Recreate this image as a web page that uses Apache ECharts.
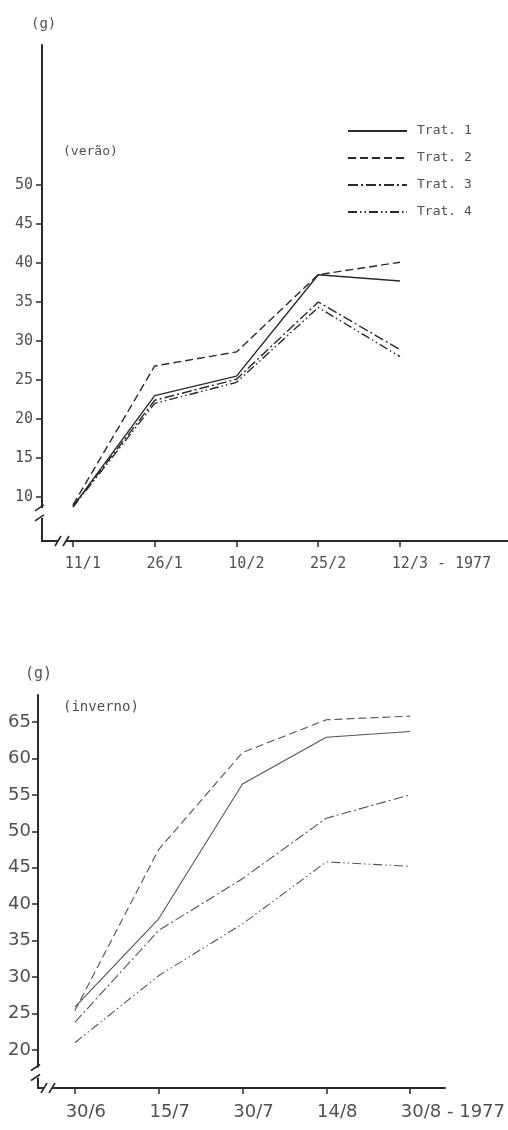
<!DOCTYPE html>
<html>
<head>
<meta charset="utf-8">
<script src="https://cdn.jsdelivr.net/npm/echarts@6/dist/echarts.min.js"></script>
<style>
  html, body { margin: 0; padding: 0; background: #fff; }
  #chart { width: 508px; height: 1130px; }
</style>
</head>
<body>
<div id="chart"></div>
<script>
// Sampling dates for each season
const summerDates = ['11/1', '26/1', '10/2', '25/2', '12/3 - 1977'];
const winterDates = ['30/6', '15/7', '30/7', '14/8', '30/8 - 1977'];
const treatments = ['Trat. 1', 'Trat. 2', 'Trat. 3', 'Trat. 4'];

// Mean weight (g), summer (verão)
const summerT1 = [8.8, 23.0, 25.5, 38.5, 37.7];
const summerT2 = [9.0, 26.8, 28.6, 38.5, 40.1];
const summerT3 = [8.8, 22.4, 25.1, 35.0, 28.9];
const summerT4 = [8.7, 22.0, 24.7, 34.3, 28.0];

// Mean weight (g), winter (inverno)
const winterT1 = [25.9, 38.0, 56.5, 62.9, 63.7];
const winterT2 = [25.4, 47.5, 60.8, 65.3, 65.8];
const winterT3 = [23.8, 36.4, 43.5, 51.8, 55.0];
const winterT4 = [21.0, 30.2, 37.3, 45.8, 45.2];

// Tick values
const summerTicks = [10, 15, 20, 25, 30, 35, 40, 45, 50];
const winterTicks = [20, 25, 30, 35, 40, 45, 50, 55, 60, 65];

const INK = '#2a2a2a';
const TEXT = '#505050';
const dashStyles = ['solid', [8, 4], [10, 3, 2, 3], [9, 3, 1.5, 3, 1.5, 3]];

const topGrid = { left: 42, top: 45, width: 466, height: 496 };
const botGrid = { left: 38, top: 695, width: 408, height: 393 };

const idx = summerDates.map((_, i) => i);
const pairs = arr => arr.map((v, i) => [i, v]);

function xAxisFor(gridIndex, labels, min, max, labelShift, font, margin) {
  return {
    type: 'value', gridIndex, min, max,
    axisLine: { show: true, onZero: false, lineStyle: { color: INK, width: 2 } },
    axisTick: { show: true, customValues: idx, length: 6, lineStyle: { color: INK, width: 1.5 } },
    axisLabel: {
      customValues: idx.map(i => i - labelShift),
      formatter: v => labels[Math.round(v)],
      align: 'left', margin, color: TEXT,
      fontFamily: font.family, fontSize: font.size
    },
    splitLine: { show: false }
  };
}

function yAxisFor(gridIndex, ticks, min, max, font, margin) {
  return {
    type: 'value', gridIndex, min, max,
    axisLine: { show: true, onZero: false, lineStyle: { color: INK, width: 2 } },
    axisTick: { show: true, customValues: ticks, length: 6, lineStyle: { color: INK, width: 1.5 } },
    axisLabel: {
      customValues: ticks, margin, color: TEXT,
      fontFamily: font.family, fontSize: font.size
    },
    splitLine: { show: false }
  };
}

function lineSeries(name, data, gi, k, color, width) {
  return {
    name, type: 'line', xAxisIndex: gi, yAxisIndex: gi,
    data: pairs(data), symbol: 'none', silent: true,
    itemStyle: { color: 'rgba(0,0,0,0)' },
    lineStyle: { color, width, type: dashStyles[k] }
  };
}

const summerSets = [summerT1, summerT2, summerT3, summerT4];
const winterSets = [winterT1, winterT2, winterT3, winterT4];

const chart = echarts.init(document.getElementById('chart'), null, { renderer: 'canvas' });

const monoTop = { family: 'DejaVu Sans Mono', size: 15 };
const sansBot = { family: 'DejaVu Sans', size: 18 };

chart.setOption({
  animation: false,
  backgroundColor: '#fff',
  grid: [topGrid, botGrid],
  xAxis: [
    xAxisFor(0, summerDates, -0.379, 5.321, 0.1, monoTop, 16),
    xAxisFor(1, winterDates, -0.44, 4.417, 0.11, sansBot, 15)
  ],
  yAxis: [
    yAxisFor(0, summerTicks, 4.36, 67.95, monoTop, 9),
    yAxisFor(1, winterTicks, 14.79, 68.7, sansBot, 7)
  ],
  legend: {
    data: treatments,
    orient: 'vertical',
    left: 342, top: 119,
    itemWidth: 59, itemHeight: 14, itemGap: 13,
    selectedMode: false,
    itemStyle: { color: 'rgba(0,0,0,0)', borderWidth: 0 },
    textStyle: {
      fontFamily: 'DejaVu Sans Mono', fontSize: 13, color: TEXT,
      lineHeight: 14, padding: [0, 0, 0, 5]
    }
  },
  series: [
    ...summerSets.map((d, k) => lineSeries(treatments[k], d, 0, k, INK, 1.4)),
    ...winterSets.map((d, k) => lineSeries(treatments[k] + ' ', d, 1, k, '#555', 1.1))
  ]
});

// Axis breaks and annotations, placed from the grid geometry
function breaks(axisX, axisY, yGapTop, xGapLeft) {
  const els = [];
  const stroke = { stroke: INK, lineWidth: 1.6 };
  // vertical axis break
  els.push({ type: 'rect', shape: { x: axisX - 3, y: yGapTop, width: 6, height: 10 }, style: { fill: '#fff' }, z: 100 });
  els.push({ type: 'line', shape: { x1: axisX - 7, y1: yGapTop + 3, x2: axisX + 2, y2: yGapTop - 3 }, style: stroke, z: 101 });
  els.push({ type: 'line', shape: { x1: axisX - 7, y1: yGapTop + 13, x2: axisX + 2, y2: yGapTop + 7 }, style: stroke, z: 101 });
  // horizontal axis break
  els.push({ type: 'rect', shape: { x: xGapLeft, y: axisY - 3, width: 8, height: 6 }, style: { fill: '#fff' }, z: 100 });
  els.push({ type: 'line', shape: { x1: xGapLeft - 3, y1: axisY + 5, x2: xGapLeft + 3, y2: axisY - 5 }, style: stroke, z: 101 });
  els.push({ type: 'line', shape: { x1: xGapLeft + 5, y1: axisY + 5, x2: xGapLeft + 11, y2: axisY - 5 }, style: stroke, z: 101 });
  return els;
}

const topAxisX = chart.convertToPixel({ gridIndex: 0 }, [-0.379, 10])[0];
const topAxisY = chart.convertToPixel({ gridIndex: 0 }, [0, 4.36])[1];
const topBreakY = chart.convertToPixel({ gridIndex: 0 }, [0, 8.6])[1];
const botAxisX = chart.convertToPixel({ gridIndex: 1 }, [-0.44, 20])[0];
const botAxisY = chart.convertToPixel({ gridIndex: 1 }, [0, 14.79])[1];
const botBreakY = chart.convertToPixel({ gridIndex: 1 }, [0, 17.6])[1];

const textStyle = (size, family) => ({ fill: TEXT, fontSize: size, fontFamily: family });

chart.setOption({
  graphic: [
    ...breaks(topAxisX, topAxisY, topBreakY, topAxisX + 16),
    ...breaks(botAxisX, botAxisY, botBreakY, botAxisX + 6),
    { type: 'text', left: 31, top: 17, style: { text: '(g)', ...textStyle(14, 'DejaVu Sans Mono') } },
    { type: 'text', left: 63, top: 145, style: { text: '(verão)', ...textStyle(13, 'DejaVu Sans Mono') } },
    { type: 'text', left: 25, top: 667, style: { text: '(g)', ...textStyle(15, 'DejaVu Sans Mono') } },
    { type: 'text', left: 63, top: 700, style: { text: '(inverno)', ...textStyle(14, 'DejaVu Sans Mono') } }
  ]
});
</script>
</body>
</html>
